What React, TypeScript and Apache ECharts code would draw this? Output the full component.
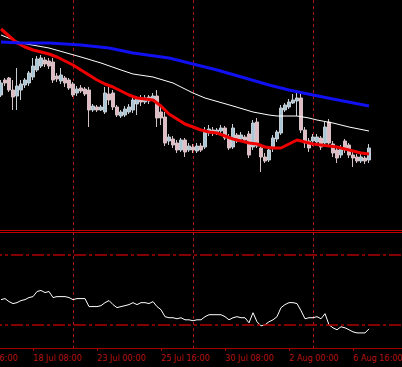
import React, { useEffect, useRef } from "react";
import * as echarts from "echarts";

// x-axis: 8 empty leading slots (so the "15 Jul 16:00" label falls partly off-screen), 93 bars, 9 empty trailing slots
const LEAD = 8;
const TRAIL = 9;
const tickLabels = ["15 Jul 16:00", "18 Jul 08:00", "23 Jul 00:00", "25 Jul 16:00", "30 Jul 08:00", "2 Aug 00:00", "6 Aug 16:00"];
const TICK_EVERY = 16;
const GRID_FIRST = 26;
const GRID_EVERY = 30;

// 4-hour candles
const opens = [205,220,222,210,204,210,215,217,223,230,234,240,239,238,224,219,222,220,216,207,212,211,210,190,193,190,188,206,207,193,184,185,188,190,196,202,198,203,201,204,188,183,159,161,157,150,160,150,153,149,154,153,167,170,167,169,172,163,153,165,161,163,166,153,178,152,143,140,152,161,167,190,193,197,199,202,170,159,159,158,162,157,178,156,150,145,159,155,145,143,139,142,140];
const closes = [217,217,210,203,214,216,220,227,234,241,242,236,234,220,221,225,217,212,205,211,209,206,190,194,190,193,207,200,193,185,188,191,193,200,201,198,202,199,204,182,182,157,163,155,150,160,148,154,150,154,150,168,171,167,170,172,162,152,172,159,165,160,145,177,154,143,139,150,162,168,192,195,198,200,202,170,157,152,163,163,153,173,157,147,142,152,150,145,142,139,143,139,152];
const lows = [203,214,208,190,190,200,212,214,220,228,232,233,231,217,218,216,213,210,203,204,207,204,173,188,188,189,186,195,190,183,182,183,186,187,185,194,196,196,199,173,175,154,155,152,147,148,143,148,147,147,148,151,164,164,165,167,160,150,151,157,158,158,142,150,152,128,137,138,148,158,165,188,191,196,184,167,152,148,154,155,150,154,154,143,137,142,147,142,133,137,137,136,137];
const highs = [220,222,223,220,232,220,222,229,242,244,245,243,242,242,227,232,224,222,218,214,215,213,213,196,195,195,213,213,210,195,190,194,196,205,204,205,205,205,207,210,194,188,166,164,160,162,162,157,156,157,157,173,175,173,172,175,174,166,176,167,168,165,169,180,182,154,147,152,165,170,195,197,201,206,207,207,173,162,166,166,164,178,181,159,152,155,161,157,148,146,146,144,156];

// moving averages: [bar index, price]
const maFast = [[0,271],[2,264],[4,257],[6,253],[8,250],[10,248],[12,246],[14,243],[16,239],[18,235],[20,230],[22,225],[24,220],[26,216],[28,213],[30,209],[32,205],[34,202],[36,201],[38,200],[40,194],[42,186],[44,181],[46,176],[48,173],[50,170],[52,168],[54,167],[56,164],[58,161],[60,159],[62,157],[64,156],[66,153],[68,152],[70,152],[72,156],[74,160],[75,159],[76,158],[78,156],[80,155],[82,154],[84,153],[86,151],[88,149],[90,147],[92,146]];
const maMid = [[0,265],[5,257],[12,252],[20,243],[25,237],[30,230],[33,226],[38,223],[43,217],[48,207],[51,202],[58,194],[63,188],[67,185],[69,184],[74,184],[77,182],[79,180],[83,177],[87,173],[92,169]];
const maSlow = [[0,258],[5,257],[12,257],[20,255],[27,252],[33,247],[42,242],[48,236],[54,230],[61,222],[67,215],[72,210],[78,205],[83,201],[92,194]];

// stochastic oscillator %K
const stoch = [41.7,42.6,40.0,38.3,39.1,40.9,41.7,43.5,44.3,48.7,49.6,47.8,48.7,43.5,44.3,44.3,44.3,43.5,41.7,42.6,42.6,42.6,35.7,35.7,35.7,36.5,39.1,40.9,37.4,34.8,35.7,36.5,37.4,39.1,37.4,39.1,39.1,38.3,40.0,35.7,33.0,27.0,26.1,26.1,25.2,26.1,24.3,24.3,23.5,24.3,24.3,27.0,28.7,28.7,28.7,28.7,27.0,24.3,26.1,27.0,26.1,26.1,21.7,30.4,22.6,19.1,20.0,22.6,24.3,27.0,34.8,37.4,39.1,39.1,38.3,32.2,25.2,26.1,26.1,27.0,25.2,29.6,20.0,17.4,15.7,18.3,17.4,15.7,13.9,13.0,13.0,13.0,16.5];
const levels = [80, 20];

export default function App() {
  const ref = useRef<HTMLDivElement>(null);
  useEffect(() => {
    if (!ref.current) return;
    const chart = echarts.init(ref.current, null, { renderer: "svg" });
    const n = opens.length;
    const total = LEAD + n + TRAIL;
    const cats = Array.from({ length: total }, (_, k) => String(k));
    const pad = (arr: any[]) => [...Array(LEAD).fill("-"), ...arr, ...Array(TRAIL).fill("-")];
    const candles = pad(opens.map((o, i) => [o, closes[i], lows[i], highs[i]]));
    const shift = (pts: number[][]) => pts.map(([i, v]) => [LEAD + i, v]);
    const gridLineFn = (idx: number) => idx >= GRID_FIRST && (idx - GRID_FIRST) % GRID_EVERY === 0;
    const tickFn = (idx: number) => idx % TICK_EVERY === 0;
    const vSplit = {
      show: true,
      interval: gridLineFn,
      lineStyle: { color: "#b01818", type: [3, 3] as any, width: 1 },
    };
    const width = (total - 1) * 4;
    const left = -31;
    const font = "'Liberation Sans Narrow', 'DejaVu Sans Condensed', Roboto, sans-serif";

    chart.setOption({
      animation: false,
      backgroundColor: "#000000",
      grid: [
        { left, width, top: 0, height: 230, outerBoundsMode: "none", containLabel: false },
        { left, width, top: 232, height: 116, outerBoundsMode: "none", containLabel: false },
      ],
      xAxis: [
        {
          type: "category",
          gridIndex: 0,
          data: cats,
          boundaryGap: false,
          axisLine: { show: true, lineStyle: { color: "#c00000", width: 1 } },
          axisTick: { show: false },
          axisLabel: { show: false },
          splitLine: vSplit,
        },
        {
          type: "category",
          gridIndex: 1,
          data: cats,
          boundaryGap: false,
          axisLine: { show: true, lineStyle: { color: "#a00000", width: 1 } },
          axisTick: { show: true, interval: tickFn, length: 3, lineStyle: { color: "#a00000" } },
          axisLabel: {
            show: true,
            interval: tickFn,
            align: "left",
            margin: 5,
            color: "#b81414",
            fontSize: 9,
            fontFamily: font,
            formatter: (_v: string, idx: number) => tickLabels[idx / TICK_EVERY] ?? "",
          },
          splitLine: vSplit,
        },
      ],
      yAxis: [
        {
          type: "value",
          gridIndex: 0,
          min: 70,
          max: 300,
          axisLine: { show: false },
          axisTick: { show: false },
          axisLabel: { show: false },
          splitLine: { show: false },
        },
        {
          type: "value",
          gridIndex: 1,
          min: 0,
          max: 100,
          interval: 100,
          axisLine: { show: false },
          axisTick: { show: false },
          axisLabel: { show: false },
          splitLine: { show: true, lineStyle: { color: "#c00000", width: 1 } },
        },
      ],
      series: [
        {
          type: "candlestick",
          xAxisIndex: 0,
          yAxisIndex: 0,
          data: candles,
          barWidth: 3,
          itemStyle: {
            color: "#a9c6d6",
            color0: "#e2bcc4",
            borderColor: "#c4ccd4",
            borderColor0: "#d6c2c6",
            borderWidth: 1,
          },
        },
        {
          type: "line",
          xAxisIndex: 0,
          yAxisIndex: 0,
          data: shift(maMid),
          showSymbol: false,
          lineStyle: { color: "#ffffff", width: 1 },
        },
        {
          type: "line",
          xAxisIndex: 0,
          yAxisIndex: 0,
          data: shift(maFast),
          showSymbol: false,
          lineStyle: { color: "#ee0000", width: 3 },
        },
        {
          type: "line",
          xAxisIndex: 0,
          yAxisIndex: 0,
          data: shift(maSlow),
          showSymbol: false,
          lineStyle: { color: "#1010f0", width: 3 },
        },
        {
          type: "line",
          xAxisIndex: 1,
          yAxisIndex: 1,
          data: pad(stoch),
          showSymbol: false,
          lineStyle: { color: "#ffffff", width: 1 },
          markLine: {
            silent: true,
            symbol: "none",
            label: { show: false },
            lineStyle: { color: "#b00000", type: [12, 3, 3, 3] as any, width: 1.5 },
            data: levels.map((v) => ({ yAxis: v })),
          },
        },
      ],
    });
    return () => chart.dispose();
  }, []);
  return (
    <div
      ref={ref}
      style={{ position: "fixed", left: 0, top: 0, width: 402, height: 367 }}
    />
  );
}
